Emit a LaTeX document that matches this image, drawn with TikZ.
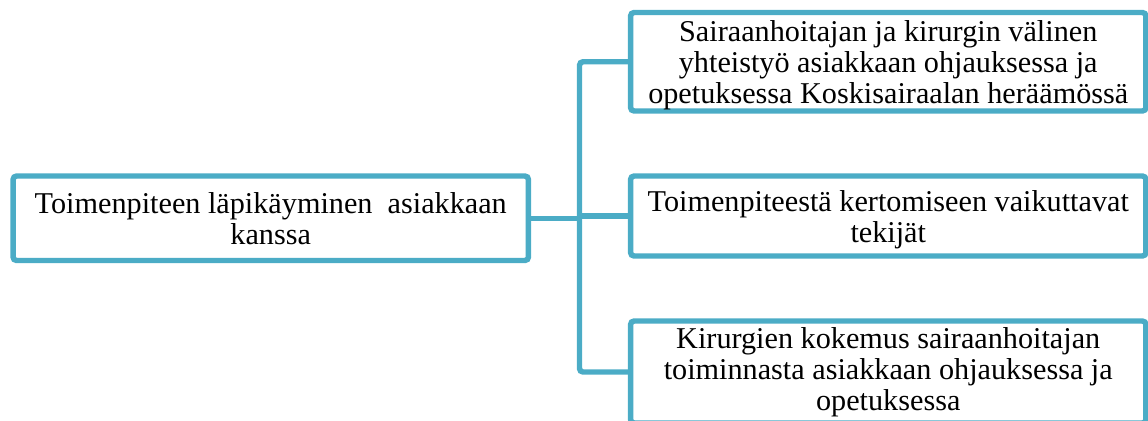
\documentclass[tikz,border=0pt]{standalone}
\usepackage{fontspec}
\setmainfont{Liberation Serif}
\usepackage{tikz}
\usetikzlibrary{positioning,calc}
\definecolor{aqua}{HTML}{4BACC6}

\begin{document}
\begin{tikzpicture}[
  x=0.02cm, y=-0.02cm,
  box/.style={draw=aqua, line width=3.1pt, rounded corners=2pt, fill=white, minimum width=10.31cm, align=center, inner sep=2pt, font=\fontsize{17.2}{17.6}\selectfont},
  link/.style={draw=aqua, line width=3.1pt, rounded corners=2pt}
]
\useasboundingbox (0,0) rectangle (1148,420);

% Left box
\node[box, minimum height=1.69cm] (main) at (270.75,218.25) {Toimenpiteen läpikäyminen\ \ asiakkaan\\kanssa};

% Right boxes
\node[box, minimum height=1.97cm, text depth=-0.1cm] (yhteistyo) at (888.25,61.75) {Sairaanhoitajan ja kirurgin\ välinen\\yhteistyö asiakkaan ohjauksessa ja\\opetuksessa Koskisairaalan heräämössä};
\node[box, minimum height=1.6cm] (tekijat) at (888.25,216) {\rule{0pt}{0.58cm}Toimenpiteestä kertomiseen vaikuttavat\\tekijät};
\node[box, minimum height=2.04cm] (kokemus) at (888.25,372) {Kirurgien kokemus sairaanhoitajan\\toiminnasta\ asiakkaan ohjauksessa ja\\opetuksessa};

% Connectors
\coordinate (trunk) at (579.5,218);
\draw[link] (yhteistyo.west) -| (trunk |- kokemus.west) -- (kokemus.west);
\draw[link] (main.east) -- (main.east -| trunk);
\draw[link] (tekijat.west) -- (tekijat.west -| trunk);

\end{tikzpicture}
\end{document}
